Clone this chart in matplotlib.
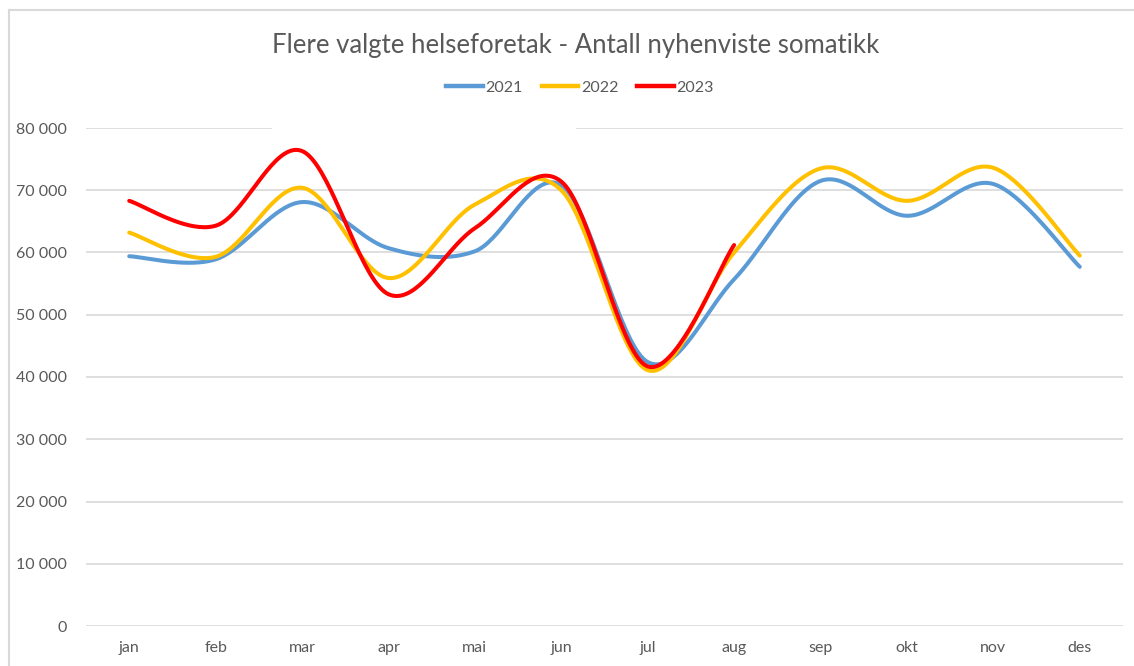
import numpy as np
import matplotlib
matplotlib.use("Agg")
import matplotlib.pyplot as plt
from matplotlib.ticker import FuncFormatter
from matplotlib.lines import Line2D

months = ["jan", "feb", "mar", "apr", "mai", "jun", "jul", "aug", "sep", "okt", "nov", "des"]
y2021 = [59400, 58900, 68100, 60700, 60200, 70800, 42400, 55700, 71500, 65900, 71000, 57700]
y2022 = [63200, 59300, 70400, 55900, 67700, 70000, 41100, 60000, 73500, 68300, 73600, 59500]
y2023 = [68300, 64300, 76300, 53300, 63900, 71400, 41700, 61200]
labels = ["2021", "2022", "2023"]
colors = ["#5B9BD5", "#FFC000", "#FF0000"]

FONT = ["Lato", "DejaVu Sans"]
plt.rcParams["font.family"] = FONT
TXT = "#595959"


def smooth(vals, n=40):
    x = np.arange(len(vals), dtype=float)
    y = np.asarray(vals, dtype=float)
    P = np.column_stack([x, y])
    out = []
    t = np.linspace(0, 1, n)
    for i in range(len(P) - 1):
        p0 = P[i - 1] if i > 0 else P[i]
        p1 = P[i]
        p2 = P[i + 1]
        p3 = P[i + 2] if i + 2 < len(P) else P[i + 1]
        c1 = p1 + (p2 - p0) / 6.0
        c2 = p2 - (p3 - p1) / 6.0
        b = ((1 - t) ** 3)[:, None] * p1 + (3 * (1 - t) ** 2 * t)[:, None] * c1 \
            + (3 * (1 - t) * t ** 2)[:, None] * c2 + (t ** 3)[:, None] * p2
        out.append(b if i == 0 else b[1:])
    out = np.vstack(out)
    return out[:, 0], out[:, 1]


fig = plt.figure(figsize=(11.34, 6.66), dpi=100)
ax = fig.add_axes([86 / 1134, 40 / 666, (1123 - 86) / 1134, (626 - 128) / 666])

for vals, lab, col in zip([y2021, y2022, y2023], labels, colors):
    xs, ys = smooth(vals)
    ax.plot(xs, ys, color=col, lw=2.9, solid_capstyle="round", label=lab, zorder=3)

ax.set_xlim(-0.5, 11.5)
ax.set_ylim(0, 80000)
ax.set_yticks(np.arange(0, 80001, 10000))
ax.yaxis.set_major_formatter(FuncFormatter(lambda v, p: f"{int(v):,}".replace(",", " ")))
ax.set_xticks(range(len(months)))
ax.set_xticklabels(months)
ax.set_axisbelow(True)
ax.grid(axis="y", color="#D9D9D9", lw=1.2)
ax.tick_params(axis="both", length=0, colors=TXT, labelsize=11.5)
ax.tick_params(axis="y", pad=14)
ax.tick_params(axis="x", pad=11)
for s in ax.spines.values():
    s.set_visible(False)

# gap in the top gridline (legend area)
ax.plot([(272 - 86) / 86.4 - 0.5, (576 - 86) / 86.4 - 0.5], [80000, 80000],
        color="white", lw=3, zorder=2, solid_capstyle="butt", clip_on=False)

fig.text(576 / 1134, 1 - 45 / 666, "Flere valgte helseforetak - Antall nyhenviste somatikk",
         ha="center", va="center", fontsize=18.5, color=TXT)

handles = [Line2D([0], [0], color=c, lw=3.2) for c in colors]
fig.legend(handles, labels, loc="center", bbox_to_anchor=(580 / 1134, 1 - 88 / 666), ncol=3,
           frameon=False, fontsize=11.5, handlelength=2.3, handletextpad=0.15, columnspacing=1.2,
           labelcolor=TXT)

# chart border (top and left visible)
fig.add_artist(Line2D([9 / 1134, 9 / 1134], [0, 1 - 10 / 666], transform=fig.transFigure,
                      color="#D9D9D9", lw=1.5))
fig.add_artist(Line2D([9 / 1134, 1], [1 - 10 / 666, 1 - 10 / 666], transform=fig.transFigure,
                      color="#D9D9D9", lw=1.5))

fig.savefig("out.png", dpi=100, facecolor="white")
